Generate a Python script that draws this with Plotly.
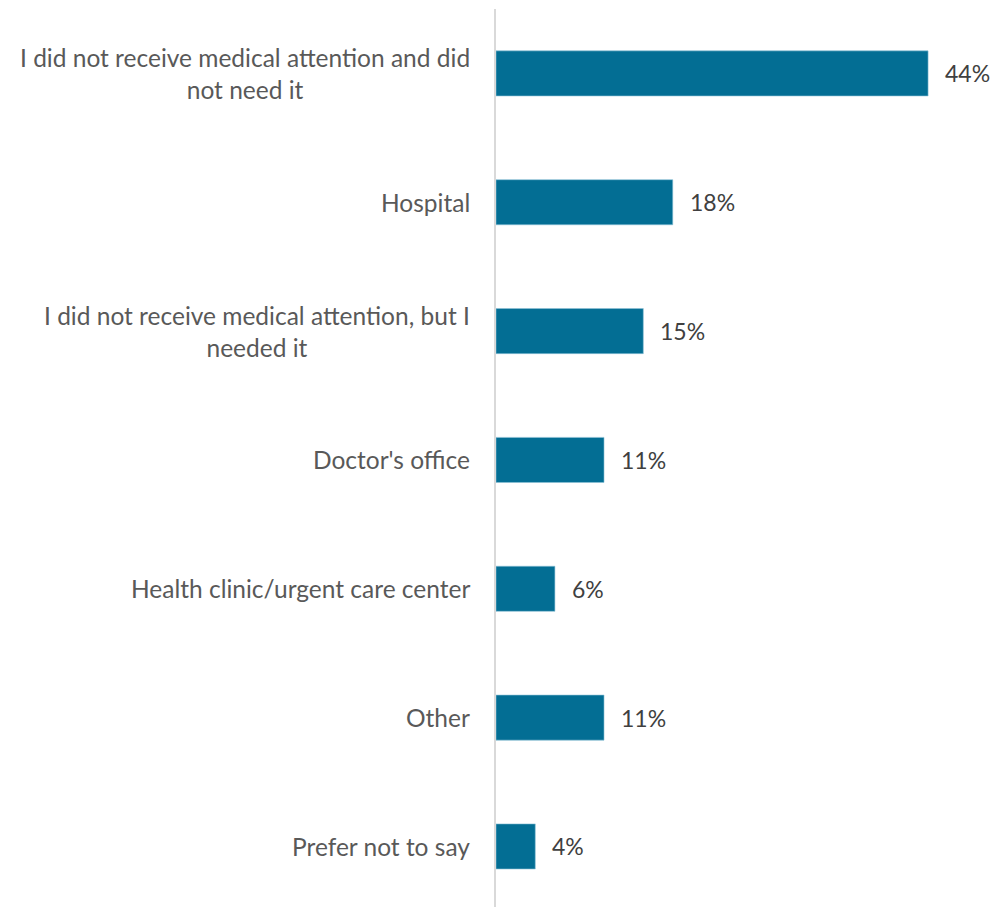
import plotly.graph_objects as go

categories = [
    "I did not receive medical attention and did<br>not need it",
    "Hospital",
    "I did not receive medical attention, but I<br>needed it",
    "Doctor's office",
    "Health clinic/urgent care center",
    "Other",
    "Prefer not to say",
]
values = [44, 18, 15, 11, 6, 11, 4]
value_labels = ["44%", "18%", "15%", "11%", "6%", "11%", "4%"]

positions = list(range(len(categories)))
FONT = "Lato, Carlito, Calibri, sans-serif"

fig = go.Figure(
    go.Bar(
        x=values,
        y=positions,
        orientation="h",
        width=0.35,
        marker=dict(color="#036E94", line=dict(color="#8fc3d6", width=0.6)),
        hoverinfo="skip",
    )
)

annotations = []
for pos, cat, val, lab in zip(positions, categories, values, value_labels):
    # category label, centered block to the left of the axis
    annotations.append(dict(
        x=0, y=pos, xref="paper", yref="y",
        text=cat, showarrow=False, xanchor="right", yanchor="middle",
        align="center", xshift=-24,
        font=dict(family=FONT, size=24.5, color="#595959"),
    ))
    # value label just past the bar end
    annotations.append(dict(
        x=val, y=pos, xref="x", yref="y",
        text=lab, showarrow=False, xanchor="left", yanchor="middle",
        xshift=15,
        font=dict(family=FONT, size=23, color="#404040"),
    ))

fig.update_layout(
    width=992, height=907,
    margin=dict(l=496, r=5, t=9, b=0),
    paper_bgcolor="white", plot_bgcolor="white",
    showlegend=False,
    annotations=annotations,
    xaxis=dict(range=[0, 50], visible=False, fixedrange=True),
    yaxis=dict(
        range=[6.47, -0.5], showticklabels=False, showgrid=False,
        zeroline=False, showline=True, linecolor="#d9d9d9", linewidth=2,
        ticks="", fixedrange=True,
    ),
)

fig.write_html("out.html")
